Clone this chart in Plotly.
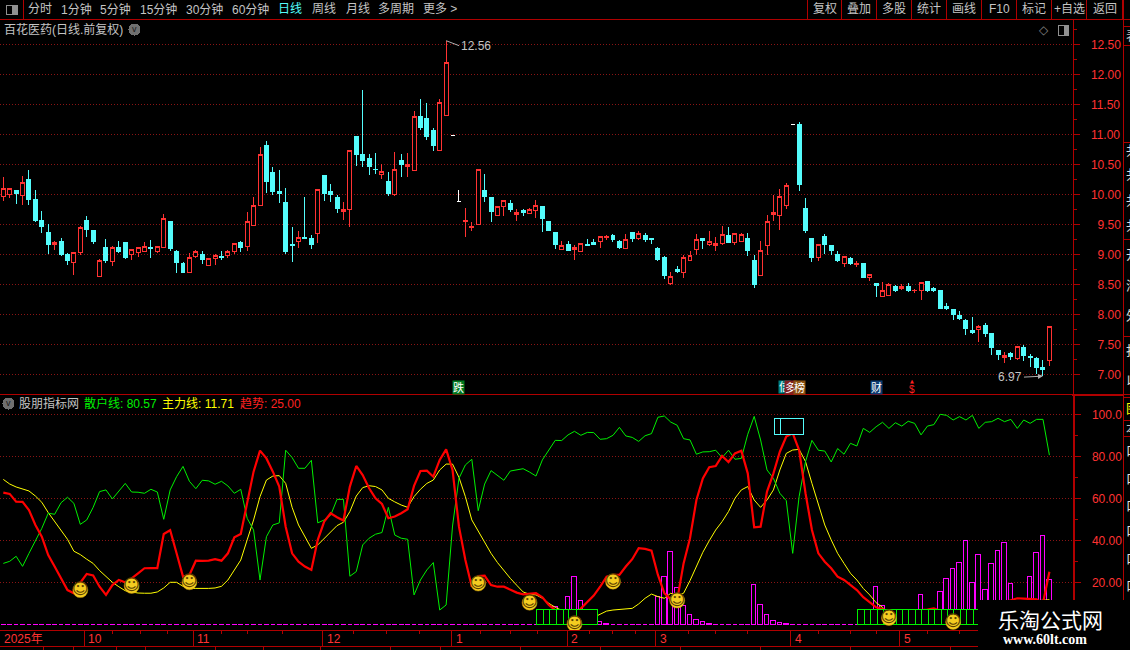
import plotly.graph_objects as go

N = None
# daily candles
opens = [9.96, 9.99, 10.06, 9.98, 10.24, 9.91, 9.56, 9.37, 9.16, 9.21,
         9.00, 8.86, 9.03, 9.56, 9.39, 8.63, 9.12, 8.88, 9.11, 9.19,
         8.99, 9.03, 9.04, 9.11, 9.04, 9.11, 9.54, 9.05, 8.85, 8.69,
         8.96, 9.00, 8.82, 8.93, 8.97, 8.98, 9.04, 9.19, 9.13, 9.48,
         9.81, 10.81, 10.36, 10.04, 9.87, 9.16, 9.21, 9.28, 9.26, 9.34,
         10.32, 10.04, 9.94, 9.71, 9.74, 10.96, 10.67, 10.59, 10.42, 10.33,
         10.21, 9.99, 10.56, 10.46, 10.39, 11.29, 11.26, 11.06, 10.73, 11.31,
         N, N, 9.55, 9.45, 9.50, 10.07, 9.94, 9.64, 9.80, 9.84,
         9.66, 9.73, 9.68, 9.73, 9.79, 9.54, 9.36, 9.08, 9.17, 9.08,
         9.04, 9.16, 9.19, 9.21, 9.28, 9.32, 9.22, 9.10, 9.36, 9.26,
         9.32, 9.26, 9.09, 8.94, 8.51, 8.74, 8.69, 8.90, 9.08, 9.26,
         9.17, 9.15, 9.18, 9.32, 9.19, 9.22, 9.26, 8.89, 8.64, 9.15,
         9.66, 9.64, 9.81, N, 11.17, 9.76, 9.27, 8.94, 9.30, 9.14,
         9.00, 8.85, 8.93, 8.83, 8.85, 8.61, 8.51, 8.29, 8.31, 8.46,
         8.43, 8.46, 8.39, 8.39, 8.54, 8.43, 8.39, 8.13, 8.08, 7.98,
         7.90, 7.73, 7.74, 7.81, 7.68, 7.39, 7.28, 7.34, 7.26, 7.44,
         7.29, 7.26, 7.11, 7.23]
highs = [10.29, 10.10, 10.07, 10.30, 10.41, 10.07, 9.72, 9.50, 9.23, 9.27,
         9.02, 9.03, 9.47, 9.64, 9.39, 8.92, 9.26, 9.14, 9.22, 9.19,
         9.08, 9.12, 9.20, 9.24, 9.13, 9.68, 9.56, 9.07, 8.87, 9.02,
         9.07, 9.05, 8.93, 9.00, 9.05, 9.08, 9.18, 9.22, 9.71, 9.96,
         10.79, 10.89, 10.46, 10.41, 10.11, 9.46, 9.39, 9.96, 9.32, 10.08,
         10.32, 10.17, 9.99, 9.87, 10.73, 10.97, 11.74, 10.67, 10.69, 10.50,
         10.37, 10.71, 10.67, 10.69, 11.39, 11.59, 11.52, 11.11, 11.59, 12.56,
         N, N, 9.77, 9.54, 10.42, 10.34, 9.94, 9.80, 9.90, 9.91,
         9.75, 9.76, 9.77, 9.91, 9.79, 9.56, 9.37, 9.22, 9.22, 9.16,
         9.18, 9.26, 9.26, 9.30, 9.32, 9.34, 9.24, 9.34, 9.36, 9.39,
         9.36, 9.26, 9.12, 8.97, 8.71, 8.81, 8.99, 9.05, 9.34, 9.26,
         9.39, 9.29, 9.47, 9.46, 9.35, 9.36, 9.36, 8.99, 9.22, 9.66,
         9.99, 10.09, 10.19, N, 11.20, 9.94, 9.27, 9.17, 9.34, 9.14,
         9.06, 8.97, 8.95, 8.89, 8.85, 8.67, 8.52, 8.54, 8.52, 8.49,
         8.51, 8.52, 8.42, 8.53, 8.54, 8.46, 8.39, 8.19, 8.08, 8.05,
         7.93, 7.95, 7.83, 7.85, 7.68, 7.41, 7.38, 7.38, 7.46, 7.49,
         7.34, 7.29, 7.24, 7.79]
lows = [9.89, 9.94, 9.84, 9.82, 9.83, 9.54, 9.36, 9.00, 9.07, 8.97,
        8.82, 8.66, 8.99, 9.29, 9.17, 8.63, 8.86, 8.81, 9.02, 8.92,
        8.91, 8.96, 9.04, 8.94, 9.02, 9.11, 9.06, 8.69, 8.69, 8.69,
        8.94, 8.84, 8.81, 8.82, 8.91, 8.94, 9.00, 9.04, 9.06, 9.48,
        9.81, 10.02, 9.99, 9.86, 9.00, 8.87, 9.11, 9.26, 9.09, 9.19,
        9.89, 9.87, 9.69, 9.57, 9.46, 10.47, 10.46, 10.32, 10.34, 10.26,
        9.97, 9.98, 10.29, 10.29, 10.39, 11.07, 10.91, 10.72, 10.73, 11.31,
        N, N, 9.29, 9.39, 9.50, 9.87, 9.54, 9.64, 9.64, 9.71,
        9.56, 9.64, 9.68, 9.61, 9.37, 9.39, 9.09, 9.08, 9.06, 8.91,
        9.04, 9.14, 9.16, 9.11, 9.24, 9.20, 9.09, 9.10, 9.20, 9.24,
        9.20, 9.17, 8.89, 8.59, 8.49, 8.69, 8.61, 8.90, 8.99, 9.09,
        9.14, 9.06, 9.16, 9.19, 9.16, 9.20, 8.97, 8.44, 8.64, 8.99,
        9.56, 9.41, 9.76, N, 10.06, 9.36, 8.87, 8.89, 9.00, 8.99,
        8.87, 8.79, 8.82, 8.79, 8.62, 8.56, 8.29, 8.29, 8.31, 8.37,
        8.40, 8.38, 8.35, 8.24, 8.37, 8.37, 8.10, 8.08, 7.90, 7.90,
        7.66, 7.68, 7.54, 7.63, 7.33, 7.24, 7.19, 7.24, 7.24, 7.22,
        7.12, 7.01, 6.97, 7.14]
closes = [10.10, 10.10, 10.01, 10.20, 9.92, 9.57, 9.47, 9.17, 9.20, 9.00,
          8.89, 9.03, 9.45, 9.41, 9.21, 8.90, 8.89, 9.12, 9.04, 8.94,
          9.08, 9.12, 9.13, 9.09, 9.13, 9.60, 9.09, 8.86, 8.69, 8.95,
          9.05, 8.92, 8.93, 8.98, 8.94, 9.05, 9.18, 9.11, 9.55, 9.82,
          10.67, 10.21, 10.05, 10.01, 9.04, 9.15, 9.28, 9.27, 9.16, 10.08,
          10.02, 9.99, 9.76, 9.75, 10.73, 10.67, 10.57, 10.47, 10.41, 10.38,
          10.01, 10.42, 10.49, 10.49, 11.30, 11.12, 10.96, 10.82, 11.53, 12.20,
          N, N, 9.56, 9.47, 10.42, 9.96, 9.72, 9.80, 9.90, 9.74,
          9.70, 9.70, 9.75, 9.82, 9.59, 9.39, 9.16, 9.15, 9.06, 9.11,
          9.18, 9.15, 9.16, 9.30, 9.30, 9.24, 9.11, 9.25, 9.27, 9.35,
          9.24, 9.24, 8.92, 8.64, 8.63, 8.72, 8.95, 8.98, 9.25, 9.23,
          9.21, 9.18, 9.33, 9.19, 9.35, 9.33, 9.06, 8.49, 9.07, 9.55,
          9.70, 9.97, 10.15, N, 10.17, 9.39, 8.95, 9.16, 9.16, 9.07,
          8.89, 8.97, 8.85, 8.85, 8.62, 8.67, 8.48, 8.40, 8.49, 8.40,
          8.46, 8.39, 8.40, 8.53, 8.40, 8.40, 8.10, 8.10, 8.00, 7.93,
          7.76, 7.69, 7.79, 7.68, 7.44, 7.33, 7.32, 7.29, 7.46, 7.31,
          7.28, 7.11, 7.08, 7.79]
# the three white one-price days
white_idx = [70, 71, 123]
white_open = [10.98, 9.88, 11.17]
white_high = [10.98, 10.07, 11.17]
white_low = [10.98, 9.88, 11.17]
white_close = [10.98, 9.88, 11.17]

retail_line = [29.0, 30.0, 32.4, 27.6, 33.8, 39.8, 45.7, 52.9, 52.4, 57.9,
               60.5, 57.6, 47.6, 49.7, 55.7, 63.2, 64.0, 59.7, 63.5, 67.1,
               63.0, 62.9, 62.4, 64.3, 63.0, 50.0, 64.0, 70.3, 75.2, 68.1,
               64.6, 68.6, 68.3, 66.7, 68.1, 65.9, 62.4, 64.3, 50.5, 44.9,
               21.1, 41.7, 47.3, 48.3, 82.9, 79.4, 74.3, 74.3, 78.1, 48.3,
               49.7, 51.9, 59.5, 59.5, 22.9, 25.1, 37.8, 41.0, 42.9, 43.7,
               55.7, 42.5, 41.0, 40.5, 14.0, 21.1, 25.9, 29.4, 6.8, 9.2,
               46.8, 69.5, 75.9, 78.6, 54.1, 66.8, 73.2, 71.1, 68.6, 73.0,
               73.5, 74.1, 72.5, 70.6, 78.3, 83.0, 87.6, 87.5, 90.2, 91.9,
               90.0, 91.4, 91.3, 88.1, 88.4, 90.0, 93.8, 89.7, 89.0, 87.1,
               89.8, 90.8, 98.6, 99.2, 96.3, 94.8, 88.4, 87.8, 81.0, 82.1,
               82.2, 82.9, 79.4, 82.9, 78.6, 79.0, 90.5, 99.0, 87.8, 73.5,
               69.5, 62.4, 58.9, 33.8, 60.8, 77.5, 87.6, 82.9, 82.5, 77.3,
               83.7, 81.0, 86.2, 84.9, 93.3, 91.4, 94.1, 96.2, 93.3, 96.0,
               94.4, 96.7, 95.7, 90.2, 94.4, 95.1, 100.0, 99.5, 97.3, 98.9,
               97.3, 99.5, 93.3, 96.2, 96.5, 98.1, 96.5, 97.6, 93.3, 97.3,
               95.7, 97.6, 97.6, 80.57]
main_line = [69.0, 66.8, 65.4, 64.4, 63.5, 61.1, 58.1, 53.2, 48.9, 44.9,
             40.5, 34.8, 33.2, 31.0, 29.0, 25.6, 22.7, 20.0, 17.9, 16.0,
             15.4, 14.9, 14.8, 14.8, 15.4, 17.3, 20.0, 20.0, 18.1, 17.0,
             17.1, 17.0, 17.1, 17.3, 18.1, 21.1, 25.9, 30.6, 40.2, 49.7,
             60.8, 68.7, 70.6, 70.8, 67.1, 55.7, 47.3, 41.7, 36.2, 37.8,
             41.0, 44.1, 47.0, 48.6, 53.7, 61.1, 65.1, 66.0, 65.6, 64.0,
             60.0, 58.3, 56.8, 55.7, 60.8, 64.3, 67.1, 68.7, 73.5, 76.3,
             76.3, 70.0, 60.8, 49.7, 44.6, 39.4, 33.8, 29.4, 25.6, 21.9,
             18.6, 15.4, 14.3, 14.0, 12.4, 10.0, 8.1, 6.5, 5.2, 4.0,
             3.7, 3.2, 3.3, 4.8, 6.3, 6.8, 7.0, 7.1, 7.6, 9.7,
             12.4, 14.4, 13.2, 12.4, 14.8, 13.5, 14.8, 20.8, 27.5, 34.3,
             39.8, 44.9, 48.9, 53.7, 60.0, 64.0, 65.6, 59.2, 55.7, 59.2,
             64.0, 73.5, 81.4, 83.0, 83.3, 77.5, 67.1, 56.8, 47.3, 40.2,
             33.8, 29.0, 24.3, 21.1, 17.1, 14.0, 10.3, 8.1, 5.0, 4.5,
             4.2, 4.0, 4.0, 4.2, 4.2, 4.0, 4.5, 5.0, 5.0, 5.5,
             5.6, 6.0, 7.0, 8.0, 8.5, 9.0, 9.5, 10.0, 10.5, 11.0,
             11.0, 11.2, 11.5, 11.71]
trend_line = [62.7, 62.1, 58.4, 58.3, 54.4, 47.3, 41.7, 33.0, 27.5, 21.9,
              16.3, 14.8, 19.8, 24.0, 23.3, 17.9, 14.0, 18.7, 21.1, 20.0,
              21.9, 24.3, 26.7, 26.8, 26.8, 43.0, 44.8, 33.8, 22.7, 23.5,
              30.3, 30.2, 30.3, 31.0, 30.3, 33.8, 41.4, 43.0, 57.6, 72.7,
              82.7, 79.0, 72.7, 65.6, 46.5, 33.8, 29.8, 27.5, 25.9, 40.2,
              48.9, 52.9, 51.0, 49.4, 65.6, 75.4, 71.1, 64.8, 60.0, 57.3,
              50.5, 51.3, 52.9, 54.8, 65.9, 73.0, 73.2, 70.3, 78.3, 83.3,
              73.5, 46.5, 30.6, 17.9, 23.0, 23.2, 18.7, 17.9, 17.9, 16.3,
              15.1, 14.3, 14.4, 14.8, 12.9, 9.2, 6.8, 5.2, 3.7, 2.1,
              7.6, 10.8, 13.7, 17.9, 22.7, 23.5, 23.5, 27.5, 31.0, 36.3,
              35.9, 35.1, 23.5, 14.8, 11.9, 11.6, 29.0, 41.0, 59.2, 69.5,
              74.8, 75.4, 80.2, 77.3, 81.4, 82.7, 71.9, 46.2, 46.5, 63.2,
              71.9, 82.2, 89.4, 91.0, 83.0, 62.4, 44.9, 33.8, 29.8, 26.7,
              22.7, 21.1, 18.7, 16.3, 12.9, 10.6, 8.1, 7.3, 6.0, 5.2,
              4.9, 5.6, 6.5, 6.8, 7.0, 7.6, 6.5, 6.0, 5.6, 5.2,
              5.6, 6.0, 6.8, 7.6, 8.7, 9.7, 10.6, 11.6, 12.4, 12.2,
              12.1, 11.9, 10.0, 25.0]
pink_bars = [0, 0, 0, 0, 0, 0, 0, 0, 0, 0,
             0, 0, 0, 0, 0, 0, 0, 0, 0, 0,
             0, 0, 0, 0, 0, 0, 0, 0, 0, 0,
             0, 0, 0, 0, 0, 0, 0, 0, 0, 0,
             0, 0, 0, 0, 0, 0, 0, 0, 0, 0,
             0, 0, 0, 0, 0, 0, 0, 0, 0, 0,
             0, 0, 0, 0, 0, 0, 0, 0, 0, 0,
             0, 0, 0, 0, 0, 0, 0, 0, 0, 0,
             0, 0, 0, 0, 0, 0, 8.9, 5, 13.3, 22.9,
             11.4, 5, 3, 1.4, 0.8, 0.4, 0.4, 0.4, 0, 0,
             0, 0, 13.3, 22.9, 34.8, 17.6, 9.2, 4.8, 2.4, 1.4,
             0.8, 0.4, 0.4, 0.4, 0, 0, 0, 19, 9.5, 4.8,
             2.2, 1.3, 0.8, 0.4, 0.4, 0.4, 0, 0, 0, 0,
             0, 0, 0, 0, 0, 0, 18.1, 9, 3, 3,
             3, 3, 3, 14.3, 4, 4, 15.7, 21.9, 26.7, 29.5,
             40, 20, 33.3, 16.7, 29.2, 35.2, 39, 19.5, 10.5, 10.5,
             22.9, 34.3, 42.4, 21.4]
days = list(range(len(closes)))

# green signal boxes (start and end in candle units)
green_start = [83.2, 84.3, 85.2, 86.3, 87.3, 88.2, 89.35,
               133.2, 134.2, 135.2, 136.3, 137.2, 138.2, 139.2, 140.2, 141.2, 142.2,
               143.2, 144.2, 145.2, 146.2, 147.2, 148.2, 149.2, 150.2, 151.2]
green_end = [84.3, 85.2, 86.3, 87.3, 88.2, 89.35, 92.7,
             134.2, 135.2, 136.3, 137.2, 138.2, 139.2, 140.2, 141.2, 142.2, 143.2,
             144.2, 145.2, 146.2, 147.2, 148.2, 149.2, 150.2, 151.2, 153.2]
cyan_start = [120.3, 121.2]
cyan_end = [121.2, 124.7]

smile_idx = [12, 20, 29, 74, 82, 89, 95, 105, 138, 148]
smile_val = [16.3, 18.3, 20.0, 19.4, 10.3, 0.2, 20.3, 11.3, 3.0, 1.1]

price_ticks = [7.0, 7.5, 8.0, 8.5, 9.0, 9.5, 10.0, 10.5, 11.0, 11.5, 12.0, 12.5]
price_labels = ["\u20077.00", "\u20077.50", "\u20078.00", "\u20078.50", "\u20079.00", "\u20079.50",
                "10.00", "10.50", "11.00", "11.50", "12.00", "12.50"]
price_minor = [7.25, 7.75, 8.25, 8.75, 9.25, 9.75, 10.25, 10.75, 11.25, 11.75, 12.25, 12.75]
ind_ticks = [20, 40, 60, 80, 100]
ind_labels = ["20.00", "40.00", "60.00", "80.00", "100.0"]
ind_minor = [10, 30, 50, 70, 90]

month_ticks = [12.6, 29.6, 49.8, 69.9, 87.9, 101.7, 122.7, 139.7]
month_labels = ["10", "11", "12", "1", "2", "3", "4", "5"]
week_ticks = [17, 21.3, 25.6, 34, 38, 43.5, 54.5, 59.7, 64.8, 74.3, 79, 83.3, 91.4, 95, 98.5,
              106.7, 111, 116, 127, 132, 136, 144, 149]

W, H = 1130, 650
RED = "#B00000"
GRID = "#8A1414"
LABEL = "#FF3232"
GRAY = "#C4C4C4"
CJK = "Liberation Sans, Noto Sans CJK SC"
PLOT_RIGHT = 1072.5

fig = go.Figure()
fig.add_trace(go.Candlestick(x=days, open=opens, high=highs, low=lows, close=closes, xaxis="x", yaxis="y",
                             increasing=dict(line=dict(color="#FF3232", width=1), fillcolor="#000000"),
                             decreasing=dict(line=dict(color="#54FCFC", width=1), fillcolor="#54FCFC"),
                             showlegend=False))
fig.add_trace(go.Candlestick(x=white_idx, open=white_open, high=white_high, low=white_low, close=white_close,
                             xaxis="x", yaxis="y",
                             increasing=dict(line=dict(color="#FFFFFF", width=1), fillcolor="#FFFFFF"),
                             decreasing=dict(line=dict(color="#FFFFFF", width=1), fillcolor="#FFFFFF"),
                             showlegend=False))

fig.add_trace(go.Bar(x=days, y=pink_bars, base=-0.5, width=0.72, xaxis="x2", yaxis="y2",
                     marker=dict(color="#000000", line=dict(color="#FF00FF", width=1)), showlegend=False))
fig.add_trace(go.Scatter(x=days, y=main_line, mode="lines", line=dict(color="#FFFF00", width=1),
                         xaxis="x2", yaxis="y2", showlegend=False))
fig.add_trace(go.Scatter(x=days, y=retail_line, mode="lines", line=dict(color="#00F000", width=1),
                         xaxis="x2", yaxis="y2", showlegend=False))
fig.add_trace(go.Scatter(x=days, y=trend_line, mode="lines", line=dict(color="#FF0000", width=2.2),
                         xaxis="x2", yaxis="y2", showlegend=False))

# second indicator axis sits on top so these boxes hide the lines under them
fig.add_trace(go.Bar(x=green_start, y=[7.2] * len(green_start), base=-0.5, offset=0,
                     width=[b - a for a, b in zip(green_start, green_end)], xaxis="x2", yaxis="y3",
                     marker=dict(color="#000000", line=dict(color="#00F000", width=1)), showlegend=False))
fig.add_trace(go.Bar(x=cyan_start, y=[8.0] * len(cyan_start), base=90, offset=0,
                     width=[b - a for a, b in zip(cyan_start, cyan_end)], xaxis="x2", yaxis="y3",
                     marker=dict(color="#000000", line=dict(color="#54FCFC", width=1)), showlegend=False))
fig.add_trace(go.Scatter(x=smile_idx, y=smile_val, mode="markers+text", text=["☺"] * len(smile_idx),
                         textposition="middle center",
                         textfont=dict(family="DejaVu Sans", size=16, color="#5A4000"),
                         marker=dict(size=15, color="#F4CC20", line=dict(color="#C09000", width=0.5)),
                         xaxis="x2", yaxis="y3", showlegend=False))


def hline(y, x0=0, x1=W, color=RED, width=1):
    return dict(type="line", xref="paper", yref="paper", x0=x0 / W, x1=x1 / W, y0=1 - y / H, y1=1 - y / H,
                line=dict(color=color, width=width))


def vline(x, y0, y1, color=RED, width=1):
    return dict(type="line", xref="paper", yref="paper", x0=x / W, x1=x / W, y0=1 - y0 / H, y1=1 - y1 / H,
                line=dict(color=color, width=width))


def box(x0, y0, x1, y1, line="#909090", fill="rgba(0,0,0,0)", kind="rect"):
    return dict(type=kind, xref="paper", yref="paper", x0=x0 / W, x1=x1 / W, y0=1 - y0 / H, y1=1 - y1 / H,
                line=dict(color=line, width=1), fillcolor=fill)


def note(text, x, y, color=GRAY, size=12, anchor="left", family=CJK, **kw):
    return dict(text=text, xref="paper", yref="paper", x=x / W, y=1 - y / H, xanchor=anchor, yanchor="middle",
                showarrow=False, font=dict(color=color, size=size, family=family), borderpad=0, **kw)


shapes = [hline(19.5), hline(394.5), hline(646), hline(395, 1072, 1123, width=2),
          vline(23.5, 0, 19.5), vline(1123, 0, 650),
          box(6, 5, 17, 14), box(12, 6, 16, 13, fill="#909090"),
          box(1058, 25, 1068, 35), box(1064, 26, 1067, 34, fill="#909090"),
          box(129, 24, 140, 35, line="#707070", fill="#707070", kind="circle"),
          box(3, 398, 14, 409, line="#707070", fill="#707070", kind="circle")]
for x in [807.5, 841.5, 876.5, 911.5, 946.5, 981.5, 1016.5, 1051.5, 1086.5, 1122.5]:
    shapes.append(vline(x, 0, 19.5))
for y in [26, 45.5, 142, 239, 336, 397, 420, 436]:
    shapes.append(hline(y, 1123, 1130))
for x in [43, 73, 116, 145, 215, 263, 320, 390, 440, 520, 600, 680, 760, 850, 950]:
    shapes.append(vline(x, 646, 650))
# watermark block over the lower right corner
shapes.append(box(978, 600, 1130, 650, line="#000000", fill="#000000"))

annotations = []
for text, x, color in [("分时", 39.5, GRAY), ("1分钟", 76.5, GRAY), ("5分钟", 115.5, GRAY), ("15分钟", 158, GRAY),
                       ("30分钟", 204, GRAY), ("60分钟", 250, GRAY), ("日线", 290, "#54FCFC"), ("周线", 323.5, GRAY),
                       ("月线", 357.5, GRAY), ("多周期", 396, GRAY), ("更多 >", 440, GRAY),
                       ("复权", 824.5, GRAY), ("叠加", 859, GRAY), ("多股", 894, GRAY), ("统计", 928.5, GRAY),
                       ("画线", 963.5, GRAY), ("F10", 999, GRAY), ("标记", 1033.5, GRAY), ("+自选", 1069.5, GRAY),
                       ("返回", 1105, GRAY)]:
    annotations.append(note(text, x, 9.5, color=color, anchor="center"))
annotations += [
    note("百花医药(日线.前复权)", 3, 29.5),
    note("v", 134.5, 29, color="#1A1A1A", size=9, anchor="center"),
    note("◇", 1044, 30, color="#808080", size=12, anchor="center", family="DejaVu Sans"),
    note("v", 8.5, 403, color="#1A1A1A", size=9, anchor="center"),
    note("股朋指标网", 18, 403.5),
    note("散户线: 80.57", 83, 403.5, color="#00F000"),
    note("主力线: 11.71", 161, 403.5, color="#FFFF00"),
    note("趋势: 25.00", 239, 403.5, color="#FF2020"),
    note("2025年", 3, 638.5, color=LABEL),
    note("乐淘公式网", 1050, 619, color="#FFFFFF", size=21, anchor="center", family="Noto Sans CJK SC"),
    note("<b>www.60lt.com</b>", 1045, 639, color="#FFFFFF", size=14, anchor="center", family="Liberation Serif"),
]
for text, x in zip(month_labels, month_ticks):
    annotations.append(dict(text=text, x=x, xref="x2", y=1 - 638.5 / H, yref="paper", xanchor="left", xshift=2,
                            yanchor="middle", showarrow=False, font=dict(color=LABEL, size=12, family=CJK)))
for text, x, bg in [("跌", 70.9, "#007A20"), ("信", 121.7, "#007F7F"), ("多", 122.6, "#802020"),
                    ("榜", 124.0, "#8B5010"), ("财", 136.0, "#0B3A70")]:
    annotations.append(dict(text=text, x=x, xref="x", y=1 - 387 / H, yref="paper", xanchor="center", yanchor="middle",
                            showarrow=False, bgcolor=bg, borderpad=0, font=dict(color="#FFFFFF", size=11, family=CJK)))
annotations.append(dict(text="$", x=141.6, xref="x", y=1 - 389 / H, yref="paper", showarrow=False,
                        font=dict(color="#FF2020", size=10, family="Liberation Sans")))
annotations.append(dict(text="▲", x=141.6, xref="x", y=1 - 381 / H, yref="paper", showarrow=False,
                        font=dict(color="#FF2020", size=5, family="DejaVu Sans")))
annotations.append(dict(text="12.56", x=69, y=12.56, xref="x", yref="y", xanchor="left", yanchor="middle",
                        showarrow=True, arrowhead=0, arrowwidth=1, arrowcolor="#B0B0B0", ax=13, ay=5, standoff=0,
                        font=dict(color=GRAY, size=12, family=CJK)))
annotations.append(dict(text="6.97", x=162, y=6.97, xref="x", yref="y", xanchor="right", yanchor="middle",
                        showarrow=True, arrowhead=2, arrowwidth=1, arrowcolor="#B0B0B0", ax=-19, ay=1, standoff=0,
                        font=dict(color=GRAY, size=12, family=CJK)))
# clipped text of the side panel that is cut by the window edge
for text, y, color in [("表", 35, GRAY), ("共", 150, "#E0E0E0"), ("共", 175, "#E0E0E0"), ("共", 200, "#E0E0E0"),
                       ("共", 225, "#E0E0E0"), ("开", 255, "#E0E0E0"), ("海", 285, "#E0E0E0"), ("外", 315, "#E0E0E0"),
                       ("打", 350, "#E0E0E0"), ("以", 380, "#E0E0E0"), ("图", 408, "#FFFF00"), ("本", 428, GRAY),
                       ("口", 450, "#E0E0E0"), ("口", 478, "#E0E0E0"), ("口", 505, "#E0E0E0"), ("口", 530, "#E0E0E0"),
                       ("口", 558, "#E0E0E0"), ("口", 585, "#E0E0E0")]:
    annotations.append(note(text, 1125, y, color=color, size=13))

xrange_days = [-0.514, 166.6]
fig.update_layout(
    width=W, height=H, margin=dict(l=0, r=0, t=0, b=0, pad=0),
    paper_bgcolor="#000000", plot_bgcolor="#000000", barmode="overlay", bargap=0,
    boxmode="overlay", boxgap=0.38, boxgroupgap=0,
    font=dict(family=CJK, color=LABEL, size=12), hovermode=False, dragmode=False, showlegend=False,
    xaxis=dict(domain=[0, PLOT_RIGHT / W], range=xrange_days, anchor="y", showgrid=False, showticklabels=False,
               zeroline=False, showline=False, ticks="", rangeslider=dict(visible=False)),
    yaxis=dict(domain=[1 - 394 / H, 1 - 20 / H], range=[6.672, 12.905], side="right", anchor="x", showline=True,
               linecolor=RED, linewidth=1, showgrid=True, gridcolor=GRID, griddash="1px,2px", zeroline=False,
               tickmode="array", tickvals=price_ticks, ticktext=price_labels, ticks="outside", ticklen=6,
               tickcolor=RED, ticklabelstandoff=9, tickfont=dict(color=LABEL, size=12, family="Liberation Sans"),
               minor=dict(tickmode="array", tickvals=price_minor, ticks="outside", ticklen=3, tickcolor=RED, showgrid=False)),
    xaxis2=dict(domain=[0, PLOT_RIGHT / W], range=xrange_days, anchor="y2", showgrid=False, showticklabels=False,
                zeroline=False, showline=True, linecolor=RED, linewidth=1, tickmode="array", tickvals=month_ticks,
                ticks="outside", ticklen=16, tickcolor=RED,
                minor=dict(tickmode="array", tickvals=week_ticks, ticks="outside", ticklen=3, tickcolor=RED, showgrid=False)),
    yaxis2=dict(domain=[1 - 630 / H, 1 - 395 / H], range=[-2.71, 109.2], side="right", anchor="x2", showline=True,
                linecolor=RED, linewidth=2, showgrid=True, gridcolor=GRID, griddash="1px,2px", zeroline=False,
                tickmode="array", tickvals=ind_ticks, ticktext=ind_labels, ticks="outside", ticklen=6,
                tickcolor=RED, ticklabelstandoff=9, tickfont=dict(color=LABEL, size=12, family="Liberation Sans"),
                minor=dict(tickmode="array", tickvals=ind_minor, ticks="outside", ticklen=3, tickcolor=RED, showgrid=False)),
    yaxis3=dict(range=[-2.71, 109.2], overlaying="y2", anchor="x2", side="right", visible=False, showgrid=False),
    shapes=shapes, annotations=annotations,
)

# page without margin, and hard edges like the terminal's own drawing
page_css = ("var s=document.createElement('style');"
            "s.textContent='body{margin:0;overflow:hidden} .bars path,.boxes path,.shapelayer path{shape-rendering:crispEdges}';"
            "document.head.appendChild(s);")
fig.write_html("out.html", config={"displayModeBar": False}, post_script=page_css)
